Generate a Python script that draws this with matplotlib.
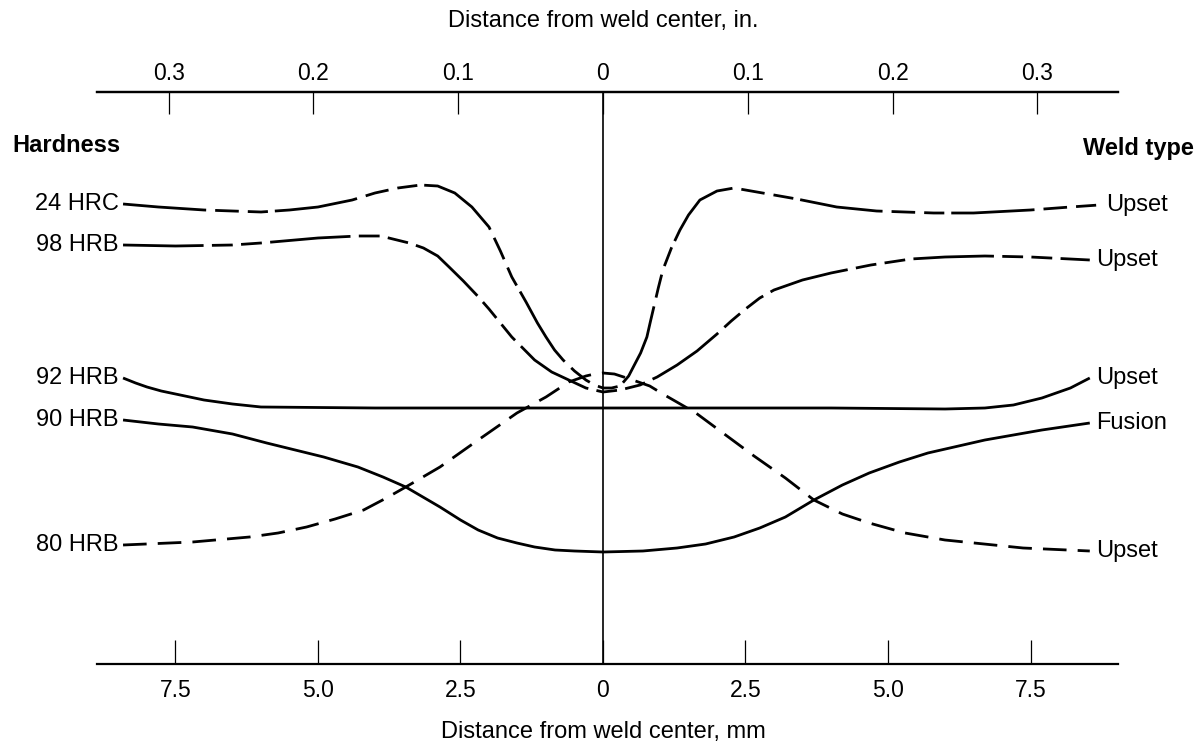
import matplotlib
matplotlib.use('Agg')
import matplotlib.pyplot as plt

plt.rcParams.update({
    'font.family': ['Liberation Sans', 'DejaVu Sans'],
    'lines.scale_dashes': False,
    'lines.solid_capstyle': 'butt',
    'lines.dash_capstyle': 'butt',
})

# distance from weld centre, mm (negative = left side); heights are relative
x_24hrc = [-8.42, -7.8, -7.0, -6.0, -5.5, -5.0, -4.4, -4.0, -3.6, -3.2, -2.9, -2.6,
           -2.3, -2.0, -1.8, -1.6, -1.35, -1.15, -1.0, -0.85, -0.7, -0.5, -0.3,
           -0.15, 0.0, 0.15, 0.3, 0.45, 0.55, 0.66, 0.77, 0.83, 0.9, 0.97, 1.05,
           1.2, 1.35, 1.5, 1.7, 2.0, 2.3, 2.8, 3.4, 4.1, 4.8, 5.8, 6.5, 7.5,
           8.2, 8.7]
h_24hrc = [460, 457, 454, 452, 454, 457, 464, 471, 476, 479, 478, 471,
           457, 437, 413, 387, 362, 341, 327, 314, 304, 293, 284,
           279, 276, 276, 278, 288, 299, 311, 327, 342, 359, 376, 394,
           416, 434, 449, 464, 473, 476, 471, 465, 457, 453, 451, 451, 454,
           457, 459]

x_98hrb = [-8.42, -7.5, -6.5, -6.0, -5.0, -4.3, -3.9, -3.4, -3.15, -2.9, -2.7,
           -2.45, -2.2, -2.0, -1.6, -1.2, -0.9, -0.6, -0.3, 0.0, 0.3, 0.65, 0.95,
           1.3, 1.65, 2.0, 2.25, 2.5, 2.75, 3.0, 3.5, 4.0, 4.7, 5.4, 6.0, 6.7,
           7.5, 8.54]
h_98hrb = [419, 418, 419, 421, 426, 428, 428, 421, 416, 408, 397,
           383, 368, 355, 327, 304, 292, 284, 276, 272, 274, 279, 287,
           299, 313, 330, 343, 355, 366, 374, 384, 391, 399, 405, 407, 408,
           407, 404]

x_92hrb = [-8.42, -8.2, -8.0, -7.75, -7.5, -7.0, -6.5, -6.0, -4.0, -2.0, 0.0, 2.0,
           4.0, 6.0, 6.7, 7.2, 7.7, 8.2, 8.54]
h_92hrb = [286, 281, 277, 273, 270, 264, 260, 257, 256, 256, 256, 256,
           256, 255, 256, 259, 266, 276, 286]

x_90hrb = [-8.42, -7.8, -7.2, -6.5, -5.9, -4.9, -4.3, -3.86, -3.46, -2.86, -2.5,
           -2.19, -1.85, -1.51, -1.2, -0.84, -0.5, 0.0, 0.7, 1.3, 1.8, 2.3, 2.75,
           3.2, 3.7, 4.2, 4.67, 5.2, 5.7, 6.7, 7.7, 8.54]
h_90hrb = [244, 240, 237, 230, 221, 207, 197, 187, 177, 157, 144,
           134, 126, 121, 117, 114, 113, 112, 113, 116, 120, 127, 136,
           147, 164, 179, 191, 202, 211, 224, 234, 241]

x_80hrb = [-8.42, -7.2, -6.2, -5.7, -5.2, -4.7, -4.2, -3.8, -3.46, -2.86, -2.19,
           -1.51, -1.0, -0.6, -0.3, -0.15, 0.0, 0.2, 0.47, 0.82, 1.05, 1.63, 2.65,
           3.2, 3.7, 4.2, 4.67, 5.3, 6.0, 7.37, 8.54]
h_80hrb = [119, 122, 127, 131, 137, 145, 154, 166, 177, 197, 224,
           251, 267, 282, 288, 290, 291, 290, 285, 278, 270, 251, 208,
           186, 164, 150, 141, 131, 124, 116, 113]

hardness = ['24 HRC', '98 HRB', '92 HRB', '90 HRB', '80 HRB']
weld_type = ['Upset', 'Upset', 'Upset', 'Fusion', 'Upset']

mm_ticks = [-7.5, -5.0, -2.5, 0, 2.5, 5.0, 7.5]
mm_labels = ['7.5', '5.0', '2.5', '0', '2.5', '5.0', '7.5']
in_ticks = [-0.3, -0.2, -0.1, 0, 0.1, 0.2, 0.3]
in_labels = ['0.3', '0.2', '0.1', '0', '0.1', '0.2', '0.3']

curves = [(x_24hrc, h_24hrc), (x_98hrb, h_98hrb), (x_92hrb, h_92hrb),
          (x_90hrb, h_90hrb), (x_80hrb, h_80hrb)]
styles = [(0, (60, 6.5, 17, 6.5, 14.5, 5)),
          (0, (58, 6, 15, 6, 15, 6)),
          '-', '-',
          (0, (17, 8))]

fig = plt.figure(figsize=(12.04, 7.46), dpi=100)
ax = fig.add_axes([97 / 1204, 82 / 746, 1021 / 1204, 572 / 746])

for (xs, hs), ls, lab_l, lab_r in zip(curves, styles, hardness, weld_type):
    ax.plot(xs, hs, color='black', lw=2.0, linestyle=ls,
            solid_joinstyle='round', dash_joinstyle='round')
    ax.text(xs[0] - 0.08, hs[0], lab_l, ha='right', va='center', fontsize=17)
    ax.text(xs[-1] + 0.12, hs[-1], lab_r, ha='left', va='center', fontsize=17)

ax.axvline(0, color='black', lw=1.2)

ax.set_xlim(-8.877, 9.035)
ax.set_ylim(0, 572)
for s in ['left', 'right']:
    ax.spines[s].set_visible(False)
ax.spines['bottom'].set_linewidth(1.6)
ax.spines['top'].set_linewidth(1.6)
ax.set_yticks([])
ax.set_xticks(mm_ticks)
ax.set_xticklabels(mm_labels)
ax.tick_params(axis='x', direction='in', length=17, width=0.9, pad=11,
               labelsize=16.5, top=False)

sec = ax.secondary_xaxis('top', functions=(lambda v: v / 25.4, lambda v: v * 25.4))
sec.set_xticks(in_ticks)
sec.set_xticklabels(in_labels)
sec.tick_params(direction='in', length=16, width=0.9, pad=5, labelsize=16.5)
sec.spines['top'].set_linewidth(1.6)

fig.text(0.5008, 1 - 21 / 746, 'Distance from weld center, in.',
         ha='center', va='center', fontsize=17)
fig.text(0.5008, 1 - 732 / 746, 'Distance from weld center, mm',
         ha='center', va='center', fontsize=17)
fig.text(12 / 1204, 1 - 145 / 746, 'Hardness', ha='left', va='center',
         fontsize=17, fontweight='bold')
fig.text(1194 / 1204, 1 - 148 / 746, 'Weld type', ha='right', va='center',
         fontsize=17, fontweight='bold')

fig.savefig('out.png', dpi=100)
plt.close(fig)
